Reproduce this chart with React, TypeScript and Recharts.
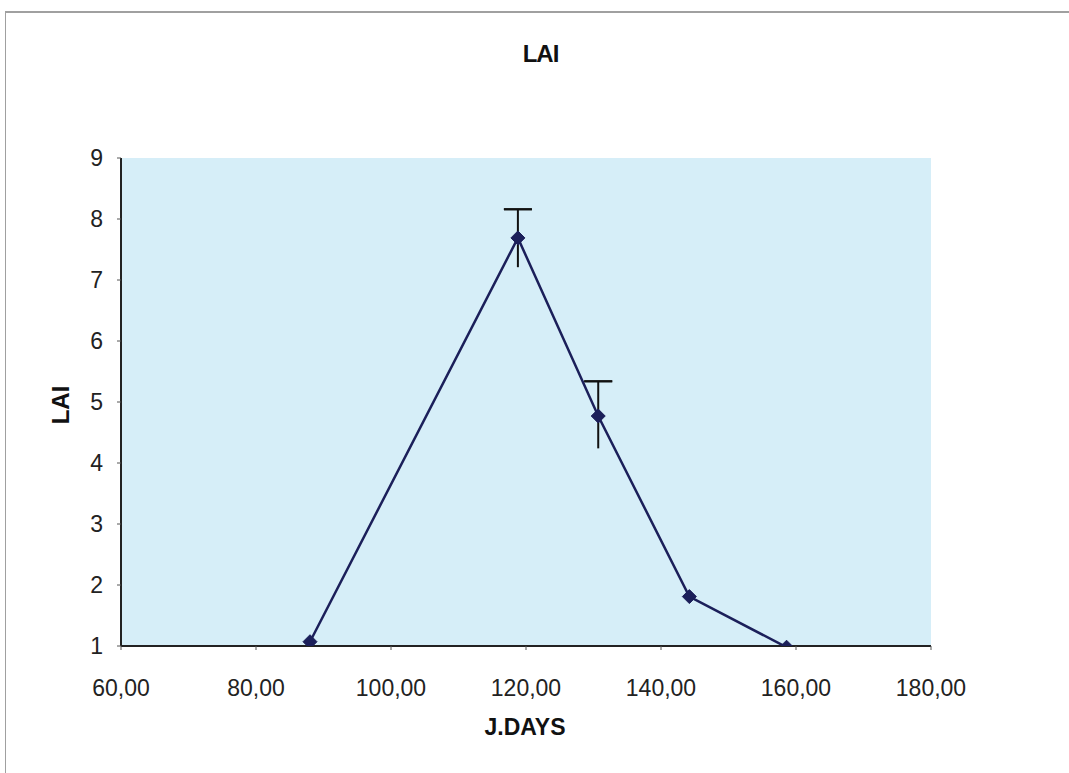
import React from "react";
import {
  ComposedChart,
  Line,
  Scatter,
  ErrorBar,
  XAxis,
  YAxis,
  CartesianGrid,
} from "recharts";

// sampling days and leaf area index
const days = [88, 118.8, 130.7, 144.2, 158.6];
const lai = [1.07, 7.69, 4.77, 1.81, 0.98];

// standard error (above / below) where it was measured
const errUp = [null, 0.47, 0.57, null, null];
const errDown = [null, 0.48, 0.53, null, null];

const xTicks = [60, 80, 100, 120, 140, 160, 180];
const yTicks = [1, 2, 3, 4, 5, 6, 7, 8, 9];

const rows = days.map((d, i) => ({ day: d, lai: lai[i] }));

// error bars are anchored at their top end so only the top gets a cap
const errRows = days
  .map((d, i) => {
    const up = errUp[i];
    const down = errDown[i];
    if (up == null || down == null) return null;
    return {
      day: d,
      top: lai[i] + up,
      cap: [0.001, 0],
      span: [up + down, 0],
    };
  })
  .filter((r) => r != null);

const FONT = "Arial, 'Liberation Sans', sans-serif";
const LINE = "#1b1f5a";

const Diamond = (props: any) => {
  const { cx, cy } = props;
  if (cx == null || cy == null) return null;
  const r = 7;
  return (
    <polygon
      points={`${cx},${cy - r} ${cx + r},${cy} ${cx},${cy + r} ${cx - r},${cy}`}
      fill={LINE}
      stroke={LINE}
      strokeWidth={1}
    />
  );
};

const fmt = (v: number) => v.toFixed(2).replace(".", ",");

export default function App() {
  return (
    <div
      style={{
        position: "absolute",
        left: 0,
        top: 0,
        width: 1069,
        height: 773,
        background: "#fff",
        fontFamily: FONT,
      }}
    >
      {/* outer chart frame */}
      <div
        style={{
          position: "absolute",
          left: 5,
          top: 11,
          width: 1070,
          height: 770,
          borderLeft: "1px solid #a0a0a0",
          borderTop: "2px solid #a0a0a0",
        }}
      />
      <div
        style={{
          position: "absolute",
          left: 0,
          width: 1069,
          top: 40,
          textAlign: "center",
          fontWeight: "bold",
          fontSize: 24,
          letterSpacing: -1,
          color: "#111",
          paddingLeft: 12,
          boxSizing: "border-box",
        }}
      >
        LAI
      </div>
      <div
        style={{
          position: "absolute",
          left: 61,
          top: 405,
          transform: "translate(-50%, -50%) rotate(-90deg)",
          fontWeight: "bold",
          fontSize: 24,
          color: "#111",
          whiteSpace: "nowrap",
        }}
      >
        LAI
      </div>
      <div
        style={{
          position: "absolute",
          left: 525,
          top: 727,
          transform: "translate(-50%, -50%)",
          fontWeight: "bold",
          fontSize: 23,
          color: "#111",
          whiteSpace: "nowrap",
        }}
      >
        J.DAYS
      </div>
      <div style={{ position: "absolute", left: 0, top: 0 }}>
        <ComposedChart
          width={1069}
          height={773}
          data={rows}
          margin={{ top: 158, right: 138, bottom: 0, left: 0 }}
        >
          <CartesianGrid
            fill="#d6eef8"
            stroke="#d6eef8"
            horizontal={false}
            vertical={false}
          />
          <XAxis
            xAxisId="top"
            orientation="top"
            type="number"
            dataKey="day"
            domain={[60, 180]}
            tick={false}
            tickLine={false}
            height={0}
            axisLine={{ stroke: "#8a8a8a", strokeWidth: 2 }}
          />
          <YAxis
            yAxisId="right"
            orientation="right"
            type="number"
            domain={[1, 9]}
            tick={false}
            tickLine={false}
            width={0}
            axisLine={{ stroke: "#8a8a8a", strokeWidth: 2 }}
          />
          <XAxis
            type="number"
            dataKey="day"
            domain={[60, 180]}
            ticks={xTicks}
            tickFormatter={fmt}
            interval={0}
            height={127}
            tickSize={4}
            tickMargin={30}
            axisLine={{ stroke: "#222", strokeWidth: 2 }}
            tickLine={{ stroke: "#555" }}
            tick={{ fontSize: 23, fill: "#222", fontFamily: FONT }}
          />
          <YAxis
            type="number"
            domain={[1, 9]}
            ticks={yTicks}
            allowDataOverflow
            interval={0}
            width={121}
            tickSize={4}
            tickMargin={14}
            axisLine={{ stroke: "#222", strokeWidth: 2 }}
            tickLine={{ stroke: "#555" }}
            tick={{ fontSize: 23, fill: "#222", fontFamily: FONT }}
          />
          <Scatter
            data={errRows}
            dataKey="top"
            shape={() => <g />}
            isAnimationActive={false}
          >
            <ErrorBar
              dataKey="cap"
              direction="y"
              width={14}
              stroke="#111"
              strokeWidth={2}
              isAnimationActive={false}
            />
            <ErrorBar
              dataKey="span"
              direction="y"
              width={0}
              stroke="#111"
              strokeWidth={2}
              isAnimationActive={false}
            />
          </Scatter>
          <Line
            type="linear"
            dataKey="lai"
            stroke={LINE}
            strokeWidth={2.5}
            dot={<Diamond />}
            activeDot={false}
            isAnimationActive={false}
          />
        </ComposedChart>
      </div>
    </div>
  );
}
